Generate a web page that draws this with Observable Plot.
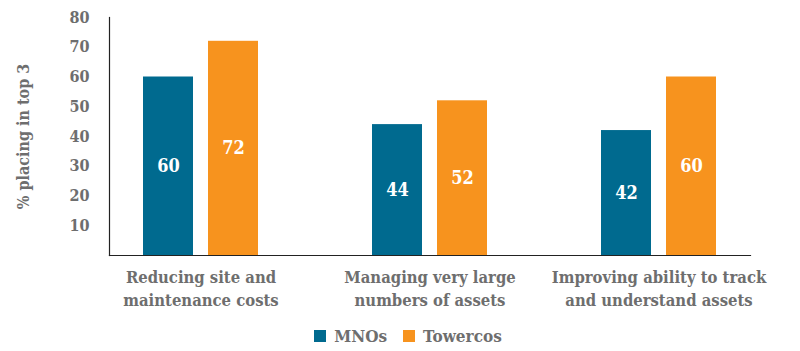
<!DOCTYPE html>
<html>
<head>
<meta charset="utf-8">
<script src="https://cdn.jsdelivr.net/npm/d3@7"></script>
<script src="https://cdn.jsdelivr.net/npm/@observablehq/plot@0.6"></script>
<style>
  body { margin: 0; background: #fff; font-family: "DejaVu Serif", serif; }
  svg { font-stretch: condensed; }
  g[aria-label="y-axis label"] text { font-size: 16px; font-weight: bold; fill: #6e6e6e; }
  #legend { display: flex; justify-content: center; align-items: center; gap: 16px; margin-top: 14px; padding-left: 16px;
            font-family: "DejaVu Serif", serif; font-stretch: condensed; font-weight: bold; font-size: 17px; color: #6e6e6e; }
  .sw { display: inline-block; width: 12px; height: 12px; margin-right: 8px; }
  .item { display: flex; align-items: center; }
</style>
</head>
<body>
<div id="chart"></div>
<div id="legend"></div>
<script>
const categories = [
  "Reducing site and\nmaintenance costs",
  "Managing very large\nnumbers of assets",
  "Improving ability to track\nand understand assets"
];
const seriesNames = ["MNOs", "Towercos"];
const mnoValues = [60, 44, 42];
const towercoValues = [72, 52, 60];
const seriesColors = ["#006a8f", "#f7931e"];
const yTicks = [10, 20, 30, 40, 50, 60, 70, 80];

const data = [];
categories.forEach((c, i) => {
  data.push({category: c, series: seriesNames[0], value: mnoValues[i]});
  data.push({category: c, series: seriesNames[1], value: towercoValues[i]});
});

const gray = "#6e6e6e";
const font = "DejaVu Serif";

const chart = Plot.plot({
  width: 800,
  height: 312,
  marginLeft: 105,
  marginRight: 23,
  marginTop: 17,
  marginBottom: 57,
  style: {fontFamily: font, background: "white"},
  fx: {domain: categories, paddingInner: 0.2, paddingOuter: 0.067, align: 0.12},
  x: {domain: seriesNames, paddingInner: 0.227, paddingOuter: 0.5, axis: null},
  y: {domain: [0, 80]},
  color: {domain: seriesNames, range: seriesColors},
  marks: [
    Plot.axisY({ticks: yTicks, tickSize: 0, tickPadding: 20, fontSize: 16, fontWeight: "bold", fill: gray,
      label: "% placing in top 3", labelAnchor: "center", labelOffset: 92, labelArrow: "none"}),
    Plot.axisFx({anchor: "bottom", tickSize: 0, tickPadding: 12, fontSize: 16.5, fontWeight: "bold", fill: gray,
      lineHeight: 1.35, label: null}),
    Plot.barY(data, {fx: "category", x: "series", y: "value", fill: "series"}),
    Plot.text(data, {fx: "category", x: "series", y: d => d.value / 2, text: d => String(d.value),
      fill: "white", fontSize: 18, fontWeight: "bold"}),
    Plot.frame({facet: "super", anchor: "bottom", stroke: "#222", strokeWidth: 1.2}),
    Plot.frame({facet: "super", anchor: "left", stroke: "#222", strokeWidth: 1.2})
  ]
});
document.getElementById("chart").appendChild(chart);

const legend = document.getElementById("legend");
seriesNames.forEach((s, i) => {
  const item = document.createElement("span");
  item.className = "item";
  const sw = document.createElement("span");
  sw.className = "sw";
  sw.style.background = seriesColors[i];
  item.appendChild(sw);
  item.appendChild(document.createTextNode(s));
  legend.appendChild(item);
});
</script>
</body>
</html>
